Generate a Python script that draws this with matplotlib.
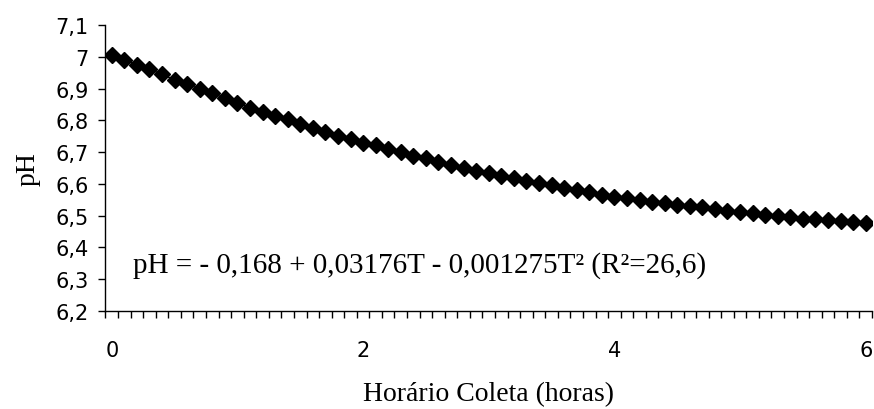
import numpy as np
import matplotlib
matplotlib.use('Agg')
import matplotlib.pyplot as plt
from matplotlib.ticker import FixedLocator

# horario de coleta (horas) e pH
horas = np.round(np.arange(61) * 0.1, 1)
ph = [7.006, 6.990, 6.975, 6.961, 6.945, 6.927, 6.915, 6.898, 6.886, 6.869,
      6.856, 6.840, 6.827, 6.814, 6.803, 6.787, 6.775, 6.762, 6.751, 6.740,
      6.729, 6.722, 6.711, 6.700, 6.689, 6.680, 6.670, 6.660, 6.651, 6.642,
      6.635, 6.625, 6.617, 6.610, 6.602, 6.595, 6.588, 6.582, 6.573, 6.566,
      6.560, 6.555, 6.548, 6.542, 6.539, 6.534, 6.531, 6.526, 6.520, 6.515,
      6.512, 6.509, 6.503, 6.500, 6.496, 6.491, 6.488, 6.486, 6.483, 6.481,
      6.478]

yticks = [6.2, 6.3, 6.4, 6.5, 6.6, 6.7, 6.8, 6.9, 7.0, 7.1]
ytick_labels = ['6,2', '6,3', '6,4', '6,5', '6,6', '6,7', '6,8', '6,9', '7', '7,1']
xticks = [0, 2, 4, 6]
equacao = 'pH = - 0,168 + 0,03176T - 0,001275T² (R²=26,6)'

fig = plt.figure(figsize=(8.74, 4.10), dpi=100)
ax = fig.add_axes([0.1207, 0.239, 0.877, 0.6976])

ax.plot(horas, ph, color='black', lw=1, marker='D', markersize=8.3)

ax.set_xlim(-0.05, 6.05)
ax.set_ylim(6.2, 7.1)

ax.set_yticks(yticks)
ax.set_yticklabels(ytick_labels, fontfamily='DejaVu Sans', fontsize=15)
ax.tick_params(axis='y', direction='out', length=5, width=1, pad=7)

ax.set_xticks(xticks)
ax.set_xticklabels([str(v) for v in xticks], fontfamily='DejaVu Sans', fontsize=15)
ax.xaxis.set_minor_locator(FixedLocator(np.arange(61 + 1) * 0.1 - 0.05))
ax.tick_params(axis='x', which='major', length=0, pad=21)
ax.tick_params(axis='x', which='minor', direction='out', length=5, width=1)

for s in ['top', 'right']:
    ax.spines[s].set_visible(False)
for s in ['left', 'bottom']:
    ax.spines[s].set_linewidth(1)

ax.set_ylabel('pH', fontfamily='Liberation Serif', fontsize=20, labelpad=11)
ax.set_xlabel('Horário Coleta (horas)', fontfamily='Liberation Serif', fontsize=20, labelpad=15)

ax.text(0.17, 6.345, equacao, fontfamily='Liberation Serif', fontsize=21, va='center', ha='left')

fig.savefig('out.png', dpi=100)
